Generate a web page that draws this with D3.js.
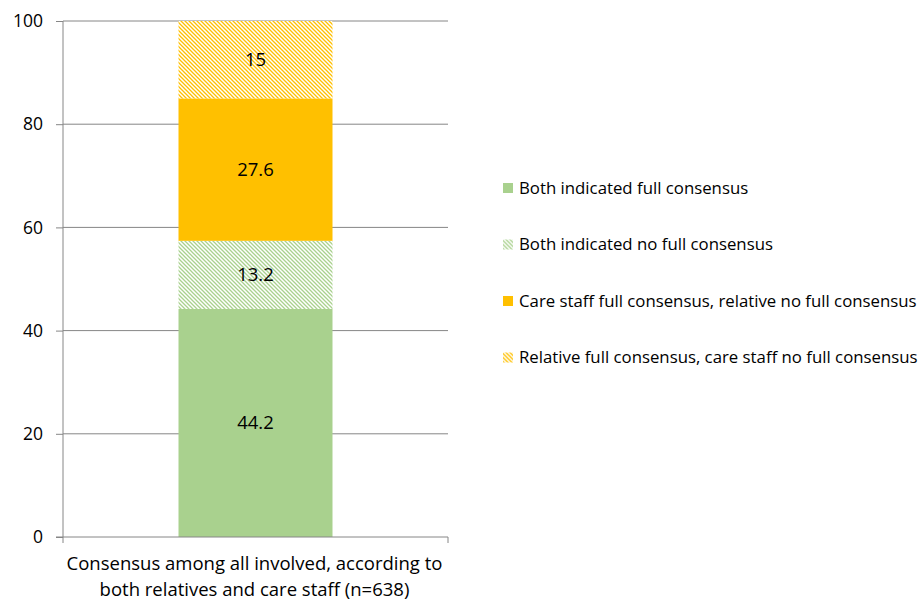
<!DOCTYPE html>
<html>
<head>
<meta charset="utf-8">
<script src="https://cdn.jsdelivr.net/npm/d3@7"></script>
<style>
  body { margin: 0; background: #fff; }
  svg text { font-family: "Open Sans", sans-serif; fill: #000; }
</style>
</head>
<body>
<div id="container"></div>
<script>
const categories = ['Consensus among all involved, according to|both relatives and care staff (n=638)'];
const seriesNames = [
  'Both indicated full consensus',
  'Both indicated no full consensus',
  'Care staff full consensus, relative no full consensus',
  'Relative full consensus, care staff no full consensus'];
const seriesValues = [44.2, 13.2, 27.6, 15];
const seriesColors = ['#a9d18e', '#a9d18e', '#ffc000', '#ffc000'];
const seriesHatched = [false, true, false, true];
const yTicks = [0, 20, 40, 60, 80, 100];

const width = 922, height = 600;
const margin = {left: 63, right: 474, top: 21, bottom: 63};

const svg = d3.select('#container').append('svg')
  .attr('width', width).attr('height', height);

const defs = svg.append('defs');
seriesColors.forEach((c, i) => {
  if (!seriesHatched[i]) return;
  const p = defs.append('pattern')
    .attr('id', 'hatch' + i)
    .attr('patternUnits', 'userSpaceOnUse')
    .attr('width', 4).attr('height', 4);
  p.append('rect').attr('width', 4).attr('height', 4).attr('fill', '#fff');
  p.append('path')
    .attr('d', 'M-1,-1 L5,5 M-1,3 L1,5 M3,-1 L5,1')
    .attr('stroke', c).attr('stroke-width', 1.3);
});
const fillFor = i => seriesHatched[i] ? `url(#hatch${i})` : seriesColors[i];

const x = d3.scaleBand()
  .domain(categories)
  .range([margin.left, width - margin.right])
  .paddingInner(0.6).paddingOuter(0.3);

const y = d3.scaleLinear()
  .domain([0, 100])
  .range([height - margin.bottom, margin.top]);

// gridlines
svg.append('g')
  .selectAll('line')
  .data(yTicks.filter(t => t > 0))
  .enter().append('line')
  .attr('x1', margin.left).attr('x2', width - margin.right)
  .attr('y1', d => y(d)).attr('y2', d => y(d))
  .attr('stroke', '#868686').attr('stroke-width', 1);

// stacked bar
let cum = 0;
const stacked = seriesValues.map((v, i) => {
  const d = {i, v, y0: cum, y1: cum + v};
  cum += v;
  return d;
});

const cat = categories[0];
svg.append('g').selectAll('rect')
  .data(stacked)
  .enter().append('rect')
  .attr('x', x(cat))
  .attr('width', x.bandwidth())
  .attr('y', d => y(d.y1))
  .attr('height', d => y(d.y0) - y(d.y1))
  .attr('fill', d => fillFor(d.i));

svg.append('g').selectAll('text')
  .data(stacked)
  .enter().append('text')
  .attr('x', x(cat) + x.bandwidth() / 2)
  .attr('y', d => y((d.y0 + d.y1) / 2))
  .attr('dy', '0.35em')
  .attr('text-anchor', 'middle')
  .style('font-size', '18.5px')
  .text(d => d.v);

// y axis
const yAxis = d3.axisLeft(y).tickValues(yTicks).tickSize(7).tickPadding(13);
const gy = svg.append('g')
  .attr('transform', `translate(${margin.left},0)`)
  .call(yAxis);
gy.select('.domain').attr('stroke', '#868686').attr('d', `M0,${y(0)}V${y(100)}`);
gy.selectAll('.tick line').attr('stroke', '#868686');
gy.selectAll('.tick text').style('font-size', '17.5px').style('font-family', '"Open Sans", sans-serif');

// x axis
const gx = svg.append('g')
  .attr('transform', `translate(0,${y(0)})`);
gx.append('line')
  .attr('x1', margin.left - 7).attr('x2', width - margin.right)
  .attr('stroke', '#868686');
[margin.left, width - margin.right].forEach(px => {
  gx.append('line').attr('x1', px).attr('x2', px).attr('y1', 0).attr('y2', 6)
    .attr('stroke', '#868686');
});
const xl = gx.append('text')
  .attr('text-anchor', 'middle')
  .attr('x', (margin.left + width - margin.right) / 2)
  .style('font-size', '18.5px');
cat.split('|').forEach((line, k) => {
  xl.append('tspan').attr('x', (margin.left + width - margin.right) / 2 - 1)
    .attr('y', 33 + k * 26).text(line);
});

// legend
const legend = svg.append('g').attr('transform', 'translate(503,188)');
const li = legend.selectAll('g')
  .data(seriesNames)
  .enter().append('g')
  .attr('transform', (d, i) => `translate(0,${i * 56.5})`);
li.append('rect')
  .attr('x', 0).attr('y', -5).attr('width', 10).attr('height', 10)
  .attr('fill', (d, i) => fillFor(i));
li.append('text')
  .attr('x', 16).attr('dy', '0.35em')
  .style('font-size', '16.8px')
  .text(d => d);
</script>
</body>
</html>
